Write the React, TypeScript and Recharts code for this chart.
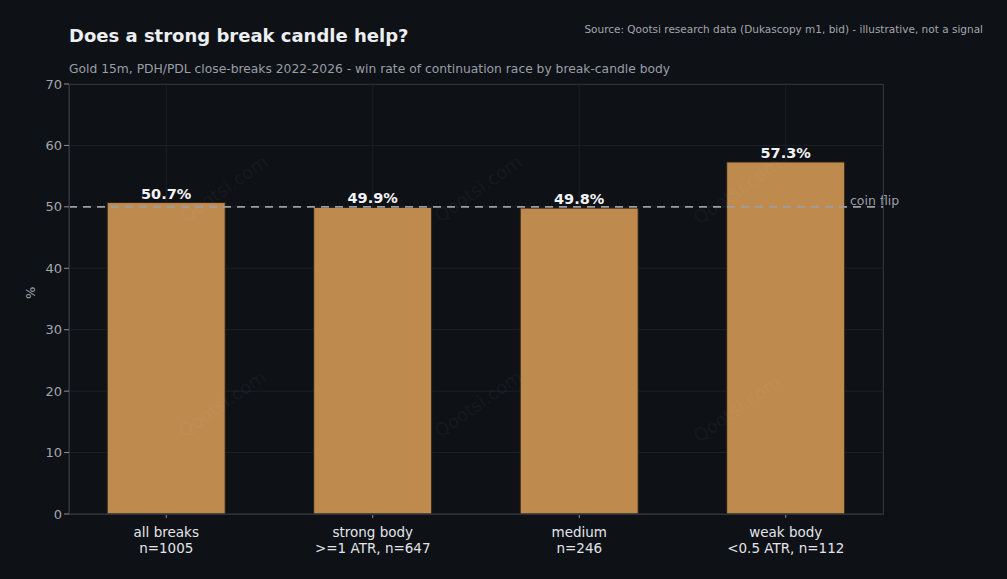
import React from 'react';
import { BarChart, Bar, XAxis, YAxis, CartesianGrid, ReferenceLine, LabelList } from 'recharts';

const categories = ['all breaks', 'strong body', 'medium', 'weak body'];
const subLabels = ['n=1005', '>=1 ATR, n=647', 'n=246', '<0.5 ATR, n=112'];
const winRates = [50.7, 49.9, 49.8, 57.3];
const yTicks = [0, 10, 20, 30, 40, 50, 60, 70];

const data = categories.map((name, i) => ({ name, sub: subLabels[i], rate: winRates[i] }));

const FONT = '"DejaVu Sans", sans-serif';
const BG = '#0e1116';

const CategoryTick = (props: any) => {
  const { x, y, payload, index } = props;
  return (
    <g transform={`translate(${x},${y})`}>
      <text textAnchor="middle" fill="#e2e4e8" fontSize={13.5} fontFamily={FONT}>
        <tspan x={0} dy={17}>{payload.value}</tspan>
        <tspan x={0} dy={16}>{subLabels[index]}</tspan>
      </text>
    </g>
  );
};

const watermarks = [
  [224, 190], [478, 190], [737, 192],
  [222, 405], [478, 405], [737, 410],
];

export default function App() {
  return (
    <div style={{ position: 'fixed', left: 0, top: 0, width: 1007, height: 579, background: BG, fontFamily: FONT }}>
      <div style={{ position: 'absolute', left: 69, top: 25, fontSize: 18, fontWeight: 'bold', color: '#eceef2' }}>
        Does a strong break candle help?
      </div>
      <div style={{ position: 'absolute', left: 69, top: 62, fontSize: 12.3, color: '#9a9ea6' }}>
        Gold 15m, PDH/PDL close-breaks 2022-2026 - win rate of continuation race by break-candle body
      </div>
      <div style={{ position: 'absolute', right: 24, top: 23, fontSize: 10.5, color: '#a3a7ae' }}>
        Source: Qootsi research data (Dukascopy m1, bid) - illustrative, not a signal
      </div>
      <div style={{ position: 'absolute', left: 0, top: 0 }}>
        <BarChart
          width={1007}
          height={579}
          data={data}
          margin={{ top: 84, right: 124, left: 29, bottom: 15 }}
          barCategoryGap="21.4%"
        >
          <CartesianGrid stroke="#1c2027" strokeWidth={1} />
          <XAxis
            dataKey="name"
            tick={<CategoryTick />}
            tickLine={{ stroke: '#8a8e96' }}
            tickSize={4}
            axisLine={{ stroke: '#30343b' }}
            interval={0}
            height={50}
            padding={{ left: -6, right: -6 }}
          />
          <YAxis
            domain={[0, 70]}
            ticks={yTicks}
            width={40}
            tick={{ fill: '#a3a7ae', fontSize: 13, fontFamily: FONT }}
            tickLine={{ stroke: '#8a8e96' }}
            tickSize={5}
            axisLine={{ stroke: '#30343b' }}
            label={{ value: '%', angle: -90, position: 'insideLeft', offset: 1, fill: '#a3a7ae', fontSize: 13, fontFamily: FONT }}
          />
          <Bar dataKey="rate" fill="#bf8a4e" stroke="#2a2218" strokeWidth={1} isAnimationActive={false}>
            <LabelList
              dataKey="rate"
              position="top"
              offset={4}
              formatter={(v: any) => `${v}%`}
              fill="#f2f3f5"
              fontSize={14.5}
              fontWeight="bold"
              fontFamily={FONT}
            />
          </Bar>
          <ReferenceLine
            y={50}
            stroke="#9a9ea5"
            strokeWidth={1.6}
            strokeDasharray="8 6"
            label={{ value: 'coin flip', position: 'right', offset: -33, dy: -6, fill: '#9a9ea6', fontSize: 12.5, fontFamily: FONT }}
          />
        </BarChart>
      </div>
      <div style={{ position: 'absolute', left: 69, top: 84, width: 813, height: 429, border: '1px solid #2e3239', pointerEvents: 'none' }} />
      {watermarks.map(([x, y], i) => (
        <div
          key={i}
          style={{
            position: 'absolute',
            left: x - 60,
            top: y - 12,
            width: 120,
            textAlign: 'center',
            fontSize: 18,
            color: 'rgba(255,255,255,0.05)',
            transform: 'rotate(-35deg)',
            pointerEvents: 'none',
          }}
        >
          Qootsi.com
        </div>
      ))}
    </div>
  );
}
